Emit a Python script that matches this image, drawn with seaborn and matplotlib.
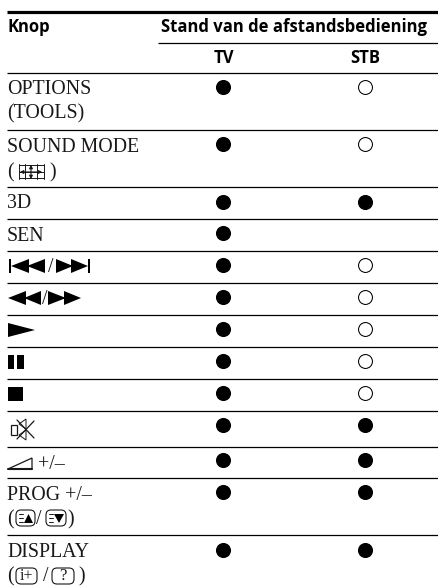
import seaborn as sns
from matplotlib import pyplot as plt
from matplotlib.patches import Polygon, Rectangle, FancyBboxPatch
import pandas as pd

INK = '#1a1718'
SERIF = 'Liberation Serif'
SANS = 'Open Sans'

buttons = ['OPTIONS', 'SOUND MODE', '3D', 'SEN', 'prev/next', 'rew/ff', 'play', 'pause',
           'stop', 'muting', 'volume', 'PROG', 'DISPLAY']
tv_marks = ['filled'] * 13
stb_marks = ['open', 'open', 'filled', '', 'open', 'open', 'open', 'open',
             'open', 'filled', 'filled', 'filled', 'filled']

# row layout, in pixels of the page
row_tops = [73, 130, 187, 219, 251, 283, 315, 347, 379, 411, 447, 478, 535]
dot_shift = [14, 14, 15, 14, 14, 14, 14, 14, 14, 14, 13, 14, 15]
column_x = {'TV': 223.5, 'STB': 365}

rows = []
for i, name in enumerate(buttons):
    rows.append({'button': name, 'column': 'TV', 'mark': tv_marks[i], 'x': column_x['TV'], 'y': row_tops[i] + dot_shift[i]})
    rows.append({'button': name, 'column': 'STB', 'mark': stb_marks[i], 'x': column_x['STB'], 'y': row_tops[i] + dot_shift[i]})
df = pd.DataFrame(rows)

sns.set_theme(style='white')
fig = plt.figure(figsize=(4.39, 5.88), dpi=100)
ax = fig.add_axes([0, 0, 1, 1])
ax.set_xlim(0, 439)
ax.set_ylim(588, 0)
ax.axis('off')

sns.scatterplot(data=df[df['mark'] == 'filled'], x='x', y='y', s=118, color='black', linewidth=0, ax=ax, legend=False)
sns.scatterplot(data=df[df['mark'] == 'open'], x='x', y='y', s=100, facecolor='white', edgecolor='black', linewidth=0.75, ax=ax, legend=False)
ax.set_xlabel('')
ax.set_ylabel('')

# rules
ax.hlines(11.5, 7, 439, color='black', lw=2.3)
ax.hlines(42.5, 158, 439, color='black', lw=0.9)
ax.hlines(row_tops, 7, 439, color='black', lw=0.9)


def serif(x, y, s, size=14.3):
    ax.text(x, y, s, family=SERIF, fontsize=size, color=INK, va='baseline', ha='left')


def sans(x, y, s, ha='left'):
    ax.text(x, y, s, family=SANS, fontweight='bold', fontsize=12, color='black', va='baseline', ha=ha)


def tri(points, **kw):
    ax.add_patch(Polygon(points, closed=True, fc=kw.get('fc', 'black'), ec=kw.get('ec', 'none'), lw=kw.get('lw', 0)))


def box(x0, y0, x1, y1):
    ax.add_patch(Rectangle((x0, y0), x1 - x0, y1 - y0, fc='black', ec='none'))


def rounded(x0, y0, x1, y1):
    ax.add_patch(FancyBboxPatch((x0 + 5, y0 + 5), x1 - x0 - 10, y1 - y0 - 10, boxstyle='round,pad=5', fc='none', ec=INK, lw=0.8))


# header
sans(7.5, 32, 'Knop')
sans(294.5, 32, 'Stand van de afstandsbediening', ha='center')
sans(223.5, 63, 'TV', ha='center')
sans(365, 63, 'STB', ha='center')

# plain labels
serif(7, 94, 'OPTIONS')
serif(7, 118, '(TOOLS)')
serif(7, 152, 'SOUND MODE')
serif(7, 208, '3D')
serif(7, 241, 'SEN')
serif(7, 500, 'PROG +/–')
serif(7, 557, 'DISPLAY')

# sound mode icon
serif(7, 177, '(')
serif(49, 177, ')')
for yy in (165, 171.5, 178):
    ax.plot([19, 44], [yy, yy], color=INK, lw=0.7)
for xx in (19, 25, 37, 44):
    ax.plot([xx, xx], [164, 179], color=INK, lw=0.7)
ax.annotate('', (31, 162), (31, 182), arrowprops=dict(arrowstyle='<|-|>', color=INK, lw=0.8, mutation_scale=5))
ax.annotate('', (17, 172), (45, 172), arrowprops=dict(arrowstyle='<|-|>', color=INK, lw=0.8, mutation_scale=5))

# previous / next
box(9, 259, 11, 273)
tri([(11, 266), (29, 259), (29, 273)])
tri([(27, 266), (45, 259), (45, 273)])
serif(48, 272, '/')
tri([(56, 259), (73, 266), (56, 273)])
tri([(71, 259), (88, 266), (71, 273)])
box(88, 259, 90, 273)

# rewind / fast forward
tri([(8, 298), (26, 291), (26, 305)])
tri([(24, 298), (41, 291), (41, 305)])
serif(42, 304, '/')
tri([(48, 291), (66, 298), (48, 305)])
tri([(64, 291), (81, 298), (64, 305)])

# play, pause, stop
tri([(8, 323), (35, 330), (8, 337)])
box(8.5, 355, 14.5, 369)
box(17, 355, 24, 369)
box(8.5, 386.5, 23.5, 401)

# muting
ax.add_patch(Rectangle((11.5, 425), 5.5, 10, fc='none', ec=INK, lw=0.9))
ax.plot([17, 34], [420, 438], color=INK, lw=0.9)
ax.plot([17, 34], [439, 421], color=INK, lw=0.9)
tri([(19, 424), (26, 419), (26, 429)], fc='none', ec=INK, lw=0.7)
tri([(19, 435), (26, 430), (26, 440)], fc='none', ec=INK, lw=0.7)

# volume
tri([(8, 469), (32, 458), (32, 469)], fc='none', ec=INK, lw=0.9)
ax.plot([8, 32], [469, 469], color=INK, lw=1.5)
serif(38, 469, '+/–')

# programme up / down
serif(7, 524, '(')
rounded(16, 510, 35, 526)
for yy in (514, 518, 522):
    ax.plot([19, 23], [yy, yy], color=INK, lw=0.7)
tri([(24, 523), (33, 523), (28.5, 514)])
serif(36, 524, '/')
rounded(46, 510, 66, 526)
for yy in (514, 518, 522):
    ax.plot([49, 53], [yy, yy], color=INK, lw=0.7)
tri([(54, 514), (64, 514), (59, 523)])
serif(67, 524, ')')

# display icons
serif(7, 581, '(')
rounded(16, 568, 37, 584)
serif(20, 580, 'i+', size=11.5)
serif(43, 581, '/')
rounded(52, 568, 74, 584)
serif(59, 580, '?', size=12)
serif(78, 581, ')')

fig.savefig('out.png', dpi=100)
